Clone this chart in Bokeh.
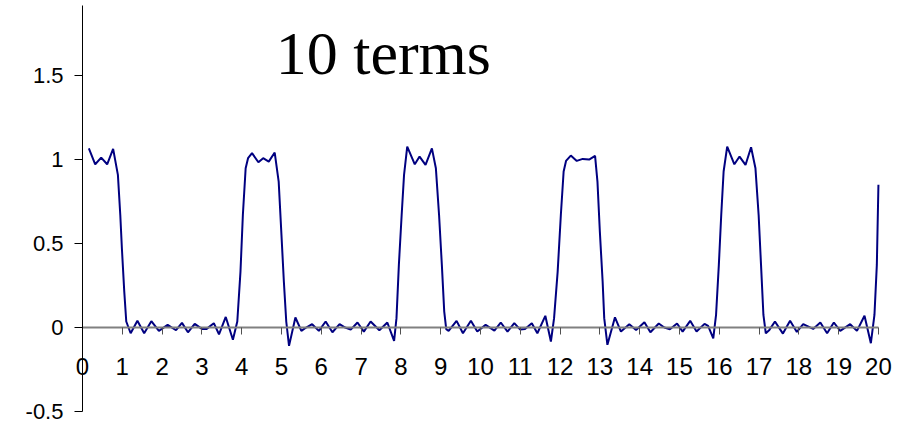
from bokeh.plotting import figure
from bokeh.models import Range1d, FixedTicker, Label, ColumnDataSource
from bokeh.embed import file_html
from bokeh.resources import INLINE

title_text = "10 terms"

x_vals = [0.16, 0.32, 0.47, 0.62, 0.77, 0.89, 0.95, 0.99, 1.05, 1.10,
          1.21, 1.38, 1.55, 1.73, 1.92, 2.14, 2.35, 2.50, 2.65, 2.82,
          3.00, 3.12, 3.30, 3.43, 3.60, 3.78, 3.89, 3.97, 4.03, 4.10,
          4.16, 4.26, 4.42, 4.54, 4.68, 4.83, 4.93, 5.00, 5.06, 5.12,
          5.19, 5.35, 5.50, 5.62, 5.77, 5.94, 6.11, 6.28, 6.46, 6.60,
          6.74, 6.91, 7.07, 7.24, 7.46, 7.66, 7.83, 7.89, 7.95, 8.02,
          8.08, 8.16, 8.35, 8.47, 8.62, 8.78, 8.88, 8.96, 9.03, 9.09,
          9.14, 9.20, 9.40, 9.56, 9.76, 9.92, 10.13, 10.35, 10.51, 10.68,
          10.85, 11.00, 11.12, 11.29, 11.43, 11.63, 11.77, 11.85, 11.94, 12.02,
          12.09, 12.15, 12.27, 12.42, 12.57, 12.73, 12.88, 12.94, 13.00, 13.07,
          13.11, 13.19, 13.38, 13.53, 13.74, 13.91, 14.12, 14.27, 14.48, 14.62,
          14.76, 14.94, 15.08, 15.27, 15.43, 15.63, 15.72, 15.85, 15.92, 15.99,
          16.05, 16.11, 16.20, 16.38, 16.51, 16.66, 16.80, 16.91, 16.99, 17.05,
          17.11, 17.17, 17.26, 17.40, 17.60, 17.78, 17.95, 18.11, 18.36, 18.54,
          18.71, 18.88, 19.04, 19.29, 19.46, 19.65, 19.81, 19.90, 19.96, 20.00]

y_vals = [1.067, 0.972, 1.012, 0.972, 1.064, 0.909, 0.670, 0.472, 0.214, 0.036,
          -0.034, 0.040, -0.034, 0.038, -0.020, 0.016, -0.016, 0.028, -0.028, 0.022,
          -0.008, -0.008, 0.026, -0.040, 0.063, -0.073, 0.036, 0.333, 0.670, 0.948,
          1.008, 1.038, 0.984, 1.008, 0.988, 1.042, 0.869, 0.550, 0.274, 0.036,
          -0.109, 0.060, -0.020, 0.000, 0.020, -0.020, 0.036, -0.028, 0.020, 0.000,
          -0.012, 0.030, -0.024, 0.036, -0.016, 0.030, -0.079, 0.056, 0.373, 0.670,
          0.909, 1.077, 0.972, 1.018, 0.968, 1.067, 0.948, 0.670, 0.373, 0.095,
          -0.010, -0.020, 0.040, -0.034, 0.040, -0.024, 0.016, -0.018, 0.030, -0.024,
          0.026, -0.012, -0.008, 0.026, -0.034, 0.070, -0.083, 0.056, 0.333, 0.670,
          0.929, 0.992, 1.024, 0.992, 1.004, 1.000, 1.022, 0.869, 0.571, 0.274,
          0.056, -0.103, 0.061, -0.024, 0.020, -0.014, 0.032, -0.028, 0.024, 0.000,
          -0.010, 0.024, -0.024, 0.040, -0.024, 0.022, 0.010, -0.064, 0.075, 0.373,
          0.670, 0.929, 1.077, 0.972, 1.018, 0.968, 1.073, 0.948, 0.670, 0.373,
          0.075, -0.034, -0.014, 0.036, -0.036, 0.040, -0.026, 0.020, -0.008, 0.030,
          -0.034, 0.030, -0.020, 0.020, -0.020, 0.070, -0.093, 0.075, 0.373, 0.850]

x_ticks = [0, 1, 2, 3, 4, 5, 6, 7, 8, 9, 10, 11, 12, 13, 14, 15, 16, 17, 18, 19, 20]
y_ticks = [-0.5, 0, 0.5, 1, 1.5]
y_tick_labels = ["-0.5", "0", "0.5", "1", "1.5"]

source = ColumnDataSource(data=dict(x=x_vals, y=y_vals))

p = figure(width=903, height=427, output_backend="svg", toolbar_location=None,
           x_range=Range1d(-2.06, 20.63), y_range=Range1d(-0.595, 1.947),
           min_border_left=0, min_border_right=0, min_border_top=0,
           min_border_bottom=0)
p.outline_line_color = None
p.xgrid.visible = False
p.ygrid.visible = False
p.background_fill_color = "white"
p.border_fill_color = "white"

p.line("x", "y", source=source, line_color="#000080", line_width=2)

# x axis crossing at y = 0
xa = p.xaxis[0]
xa.fixed_location = 0
xa.bounds = (0, 20)
xa.ticker = FixedTicker(ticks=x_ticks)
xa.axis_line_color = "#808080"
xa.axis_line_width = 2
xa.major_tick_line_color = "#505050"
xa.major_tick_line_width = 1
xa.major_tick_in = 0
xa.major_tick_out = 7
xa.minor_tick_line_color = None
xa.major_label_text_font = "Liberation Sans"
xa.major_label_text_font_size = "24px"
xa.major_label_text_color = "black"
xa.major_label_standoff = 23

# y axis crossing at x = 0
ya = p.yaxis[0]
ya.fixed_location = 0
ya.bounds = (-0.5, 1.917)
ya.ticker = FixedTicker(ticks=y_ticks)
ya.major_label_overrides = {t: s for t, s in zip(y_ticks, y_tick_labels)}
ya.axis_line_color = "black"
ya.axis_line_width = 1
ya.major_tick_line_color = "black"
ya.major_tick_in = 0
ya.major_tick_out = 8
ya.minor_tick_line_color = None
ya.major_label_text_font = "Liberation Sans"
ya.major_label_text_font_size = "22px"
ya.major_label_text_color = "black"
ya.major_label_standoff = 11

title = Label(x=7.56, y=1.637, text=title_text, text_align="center",
              text_baseline="alphabetic", text_font="Liberation Serif",
              text_font_size="62px", text_color="black")
p.add_layout(title)

open("out.html", "w").write(file_html(p, INLINE))
